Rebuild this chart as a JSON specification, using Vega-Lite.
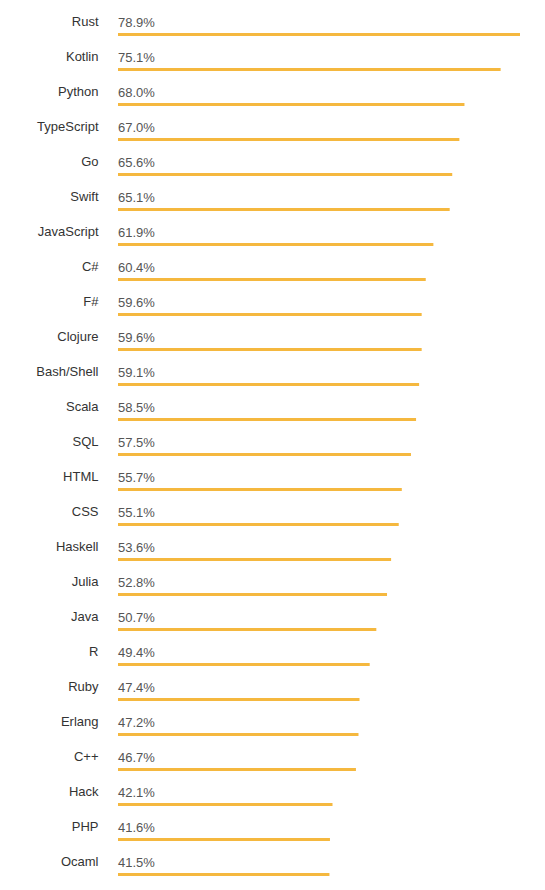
{
  "$schema": "https://vega.github.io/schema/vega-lite/v6.json",
  "width": 402,
  "height": 875,
  "autosize": "none",
  "padding": {"left": 118, "top": 5, "right": 25, "bottom": 10},
  "background": "white",
  "config": {
    "view": {"stroke": null},
    "font": "Liberation Sans"
  },
  "data": {
    "values": [
      {"lang": "Rust", "pct": 78.9},
      {"lang": "Kotlin", "pct": 75.1},
      {"lang": "Python", "pct": 68.0},
      {"lang": "TypeScript", "pct": 67.0},
      {"lang": "Go", "pct": 65.6},
      {"lang": "Swift", "pct": 65.1},
      {"lang": "JavaScript", "pct": 61.9},
      {"lang": "C#", "pct": 60.4},
      {"lang": "F#", "pct": 59.6},
      {"lang": "Clojure", "pct": 59.6},
      {"lang": "Bash/Shell", "pct": 59.1},
      {"lang": "Scala", "pct": 58.5},
      {"lang": "SQL", "pct": 57.5},
      {"lang": "HTML", "pct": 55.7},
      {"lang": "CSS", "pct": 55.1},
      {"lang": "Haskell", "pct": 53.6},
      {"lang": "Julia", "pct": 52.8},
      {"lang": "Java", "pct": 50.7},
      {"lang": "R", "pct": 49.4},
      {"lang": "Ruby", "pct": 47.4},
      {"lang": "Erlang", "pct": 47.2},
      {"lang": "C++", "pct": 46.7},
      {"lang": "Hack", "pct": 42.1},
      {"lang": "PHP", "pct": 41.6},
      {"lang": "Ocaml", "pct": 41.5}
    ]
  },
  "encoding": {
    "y": {
      "field": "lang",
      "type": "nominal",
      "sort": null,
      "scale": {"paddingInner": 0, "paddingOuter": 0},
      "axis": {
        "title": null,
        "domain": false,
        "ticks": false,
        "tickSize": 0,
        "labelPadding": 20,
        "labelFontSize": 13,
        "labelColor": "#333333",
        "labelFont": "Liberation Sans",
        "labelOffset": -1
      }
    }
  },
  "layer": [
    {
      "mark": {"type": "rule", "strokeWidth": 3, "color": "#F5B83F", "yOffset": 12, "strokeCap": "butt"},
      "encoding": {
        "x": {"field": "pct", "type": "quantitative", "scale": {"domain": [0, 78.9], "nice": false}, "axis": null},
        "x2": {"datum": 0}
      }
    },
    {
      "mark": {"type": "text", "align": "left", "baseline": "alphabetic", "fontSize": 13, "color": "#555555", "yOffset": 4, "text": {"expr": "format(datum.pct, '.1f') + '%'"}},
      "encoding": {
        "x": {"datum": 0, "type": "quantitative"}
      }
    }
  ]
}
